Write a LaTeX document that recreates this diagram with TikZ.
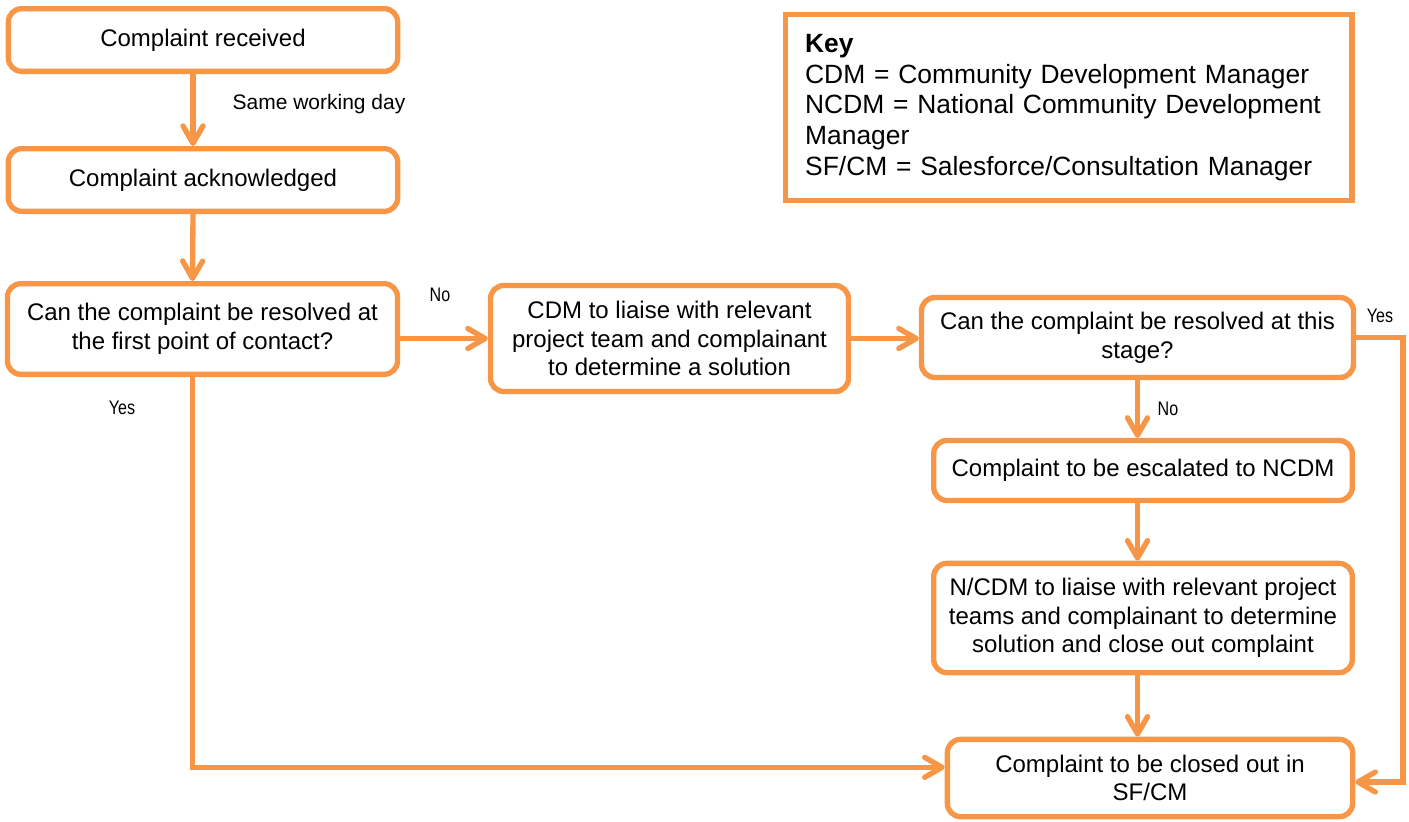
\documentclass[tikz,border=0pt]{standalone}
\usepackage{fontspec}
\setmainfont{Liberation Sans}
\newfontfamily\narrowfont[FakeStretch=0.82]{Liberation Sans}
\usetikzlibrary{arrows.meta}
\definecolor{boxorange}{RGB}{247,150,70}

\begin{document}
\begin{tikzpicture}[x=0.75pt,y=0.75pt,yscale=-1,xscale=1,
  procbox/.style={draw=boxorange, line width=4pt, rounded corners=10pt, fill=white, align=center, inner sep=0pt, font=\fontsize{18}{21.5}\selectfont},
  keybox/.style={draw=boxorange, line width=4pt, align=left, inner xsep=15pt, inner ysep=0pt, font=\fontsize{19.8}{23}\selectfont},
  flow/.style={draw=boxorange, line width=4pt, -{Straight Barb[length=13pt,width=15pt,round]}},
  lbl/.style={font=\fontsize{15.75}{18}\selectfont, inner sep=0pt},
  yesno/.style={font=\fontsize{14.7}{17}\narrowfont, inner sep=0pt}]
%set diagram left start at 0, and has height of 821
\useasboundingbox (0,0) rectangle (1409,821);

%Flowchart: Process
\node[procbox, minimum width=292pt, minimum height=47pt] (received) at (203,40) {Complaint received};
%Flowchart: Process
\node[procbox, minimum width=292pt, minimum height=47pt] (acknowledged) at (203,180) {Complaint acknowledged};
%Flowchart: Process
\node[procbox, minimum width=292.5pt, minimum height=68pt] (firstpoint) at (202.5,329) {Can the complaint be resolved at\\the first point of contact?};
%Flowchart: Process
\node[procbox, minimum width=268.5pt, minimum height=79.5pt] (cdmliaise) at (669.5,338.5) {CDM to liaise with relevant\\project team and complainant\\to determine a solution};
%Flowchart: Process
\node[procbox, minimum width=324pt, minimum height=60pt] (thisstage) at (1137.5,337.5) {Can the complaint be resolved at this\\stage?};
%Flowchart: Process
\node[procbox, minimum width=314pt, minimum height=45pt] (escalated) at (1143,470.5) {Complaint to be escalated to NCDM};
%Flowchart: Process
\node[procbox, minimum width=314pt, minimum height=82pt] (ncdmliaise) at (1143,618) {N/CDM to liaise with relevant project\\teams and complainant to determine\\solution and close out complaint};
%Flowchart: Process
\node[procbox, minimum width=304pt, minimum height=58pt] (closedout) at (1150,778) {Complaint to be closed out in\\SF/CM};

%Key
\node[keybox, minimum width=425pt, minimum height=139.5pt, text width=395pt] (key) at (1068.5,107.5) {\textbf{Key}\\CDM = Community Development Manager\\NCDM = National Community Development\\Manager\\SF/CM = Salesforce/Consultation Manager};

%Straight Lines
\draw[flow] ([xshift=-7.5pt]received.south) -- ([xshift=-7.5pt]acknowledged.north);
\draw[flow] ([xshift=-7.5pt]acknowledged.south) -- ([xshift=-7.5pt]firstpoint.north);
\draw[flow] (firstpoint.east |- cdmliaise.west) -- (cdmliaise.west);
\draw[flow] (cdmliaise.east) -- (thisstage.west |- cdmliaise.east);
\draw[flow] (thisstage.south) -- (thisstage.south |- escalated.north);
\draw[flow] (escalated.south -| thisstage.south) -- (ncdmliaise.north -| thisstage.south);
\draw[flow] (ncdmliaise.south -| thisstage.south) -- (closedout.north -| thisstage.south);
%Elbow Lines
\coordinate (rightrail) at (1403,0);
\draw[flow] ([xshift=-7.5pt]firstpoint.south) |- ([yshift=-8pt]closedout.west);
\draw[flow] (thisstage.east) -- (thisstage.east -| rightrail) |- ([yshift=3pt]closedout.east);

% Text Node
\node[lbl] (sameday) at (319,104) {Same working day};
% Text Node
\node[yesno] (nofirst) at (440,295) {No};
% Text Node
\node[yesno] (yesfirst) at (122,408) {Yes};
% Text Node
\node[yesno] (nostage) at (1168,409) {No};
% Text Node
\node[yesno] (yesstage) at (1380,316) {Yes};

\end{tikzpicture}
\end{document}
